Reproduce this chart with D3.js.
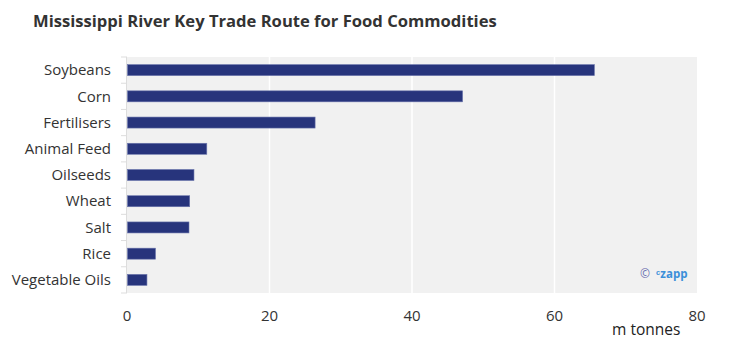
<!DOCTYPE html>
<html>
<head>
<meta charset="utf-8">
<script src="https://cdn.jsdelivr.net/npm/d3@7"></script>
<style>
  body { margin: 0; background: #fff; }
  svg { display: block; font-family: "Open Sans", sans-serif; }
</style>
</head>
<body>
<svg id="chart" width="747" height="346"></svg>
<script>
// Cargo moved on the Mississippi, million tonnes
const categories = ["Soybeans", "Corn", "Fertilisers", "Animal Feed", "Oilseeds", "Wheat", "Salt", "Rice", "Vegetable Oils"];
const values = [65.6, 47.1, 26.4, 11.2, 9.4, 8.8, 8.7, 4.0, 2.8];
const xTicks = [0, 20, 40, 60, 80];

const svg = d3.select("#chart");
const margin = { left: 127, right: 50, top: 57, bottom: 53 };
const W = 747, H = 346;
const innerW = W - margin.left - margin.right;
const innerH = H - margin.top - margin.bottom;

const x = d3.scaleLinear().domain([0, 80]).range([margin.left, margin.left + innerW]);
const y = d3.scaleBand().domain(categories).range([margin.top, margin.top + innerH]).paddingInner(0.58).paddingOuter(0.29);

// Title
svg.append("text")
  .attr("x", 33).attr("y", 27)
  .attr("font-size", 16.6).attr("font-weight", 700).attr("fill", "#333")
  .text("Mississippi River Key Trade Route for Food Commodities");

// Plot background
svg.append("rect")
  .attr("x", margin.left).attr("y", margin.top)
  .attr("width", innerW).attr("height", innerH)
  .attr("fill", "#f1f1f1");

// Vertical grid lines
svg.append("g").selectAll("line")
  .data(xTicks.slice(1, -1))
  .join("line")
  .attr("x1", d => x(d)).attr("x2", d => x(d))
  .attr("y1", margin.top).attr("y2", margin.top + innerH)
  .attr("stroke", "#fff").attr("stroke-width", 1.5);

// Bars
svg.append("g").selectAll("rect")
  .data(categories)
  .join("rect")
  .attr("x", x(0) + 0.5)
  .attr("y", d => y(d))
  .attr("width", (d, i) => x(values[i]) - x(0) - 0.5)
  .attr("height", y.bandwidth())
  .attr("fill", "#27347c")
  .attr("stroke", "#6b76ac").attr("stroke-width", 0.6);

// Category axis with ticks on band boundaries
const yAxis = svg.append("g");
yAxis.append("line")
  .attr("x1", margin.left - 0.5).attr("x2", margin.left - 0.5)
  .attr("y1", margin.top).attr("y2", margin.top + innerH)
  .attr("stroke", "#ddd").attr("stroke-width", 1);
const bounds = categories.map(c => y(c) - y.step() * y.paddingInner() / 2).concat([margin.top + innerH]);
yAxis.selectAll("line.tk")
  .data(bounds)
  .join("line")
  .attr("class", "tk")
  .attr("x1", margin.left - 6).attr("x2", margin.left)
  .attr("y1", d => d).attr("y2", d => d)
  .attr("stroke", "#ddd");
yAxis.selectAll("text")
  .data(categories)
  .join("text")
  .attr("x", 111)
  .attr("y", d => y(d) + y.bandwidth() / 2)
  .attr("dy", "0.35em")
  .attr("text-anchor", "end")
  .attr("font-size", 15).attr("fill", "#333")
  .text(d => d);

// Value axis labels
svg.append("g").selectAll("text")
  .data(xTicks)
  .join("text")
  .attr("x", d => x(d))
  .attr("y", 321)
  .attr("text-anchor", "middle")
  .attr("font-size", 15).attr("fill", "#333")
  .text(d => d);

svg.append("text")
  .attr("x", 612).attr("y", 335)
  .attr("font-size", 15.5).attr("fill", "#222")
  .text("m tonnes");

// Credit mark
const credit = svg.append("g").attr("transform", "translate(640,278)");
credit.append("text")
  .attr("x", 0).attr("y", 0)
  .attr("font-size", 12).attr("fill", "#6a6fb0")
  .text("©");
credit.append("text")
  .attr("x", 16).attr("y", 0)
  .attr("font-size", 11.5).attr("font-weight", 700).attr("fill", "#3b8fd9")
  .text("ᶜzapp");
</script>
</body>
</html>
